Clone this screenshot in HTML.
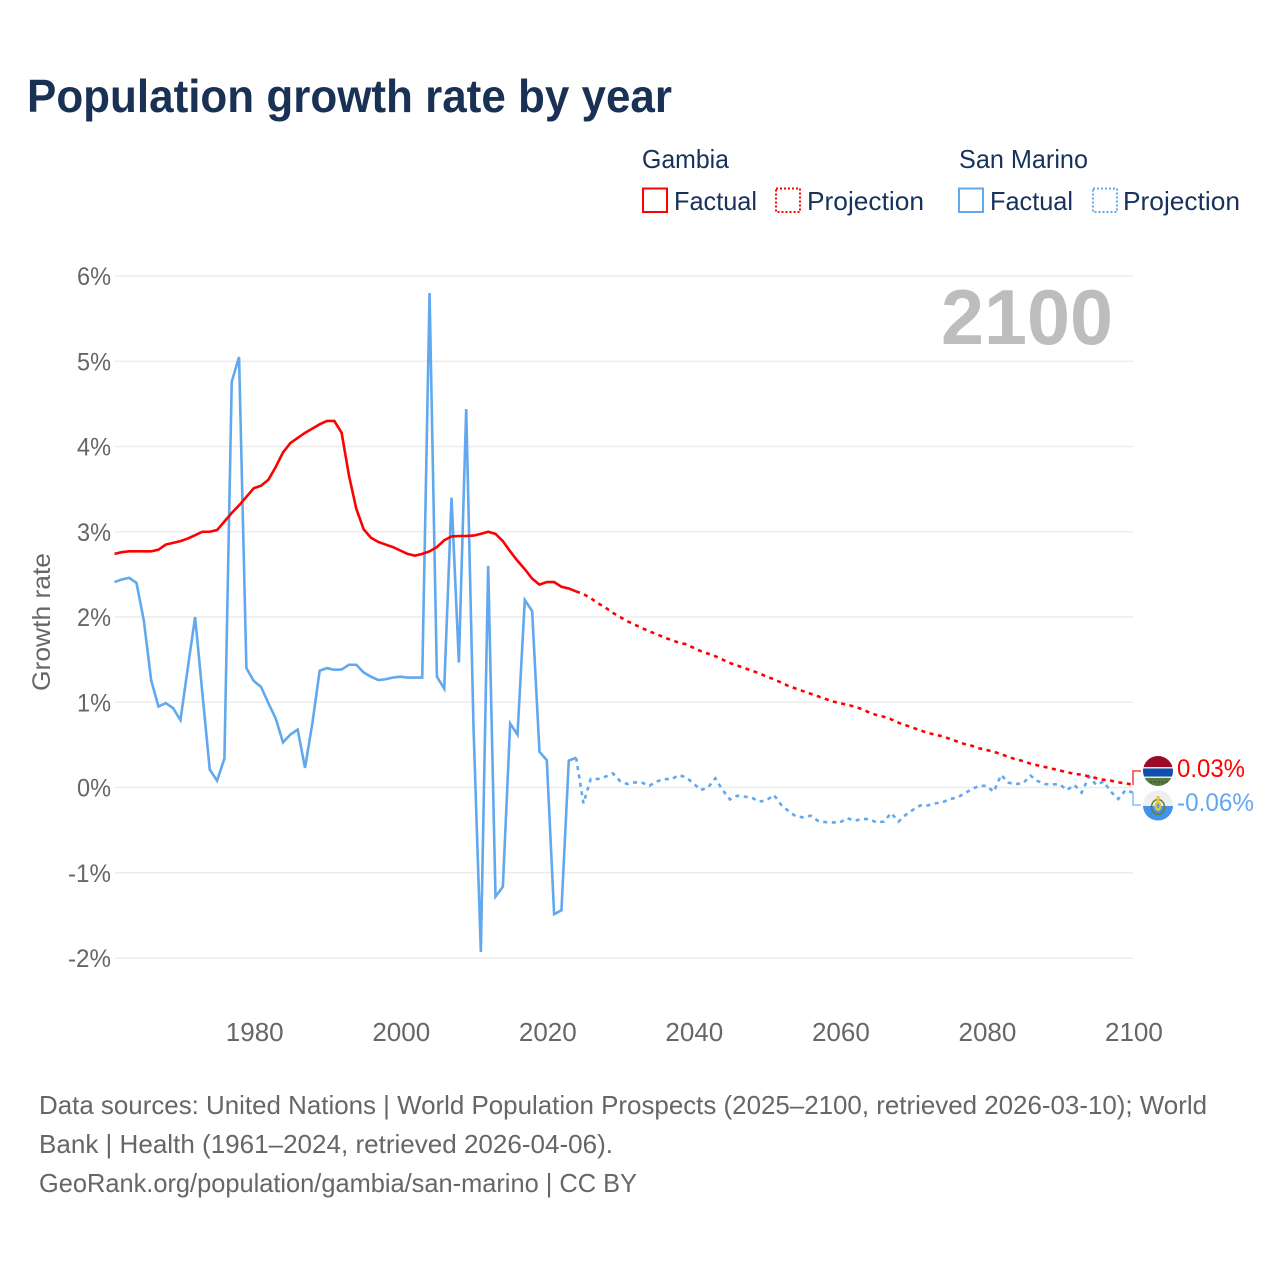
<!DOCTYPE html>
<html lang="en">
<head>
<meta charset="utf-8">
<title>Population growth rate by year</title>
<style>
html,body{margin:0;padding:0;background:#fff;width:1280px;height:1280px;overflow:hidden}
svg{display:block}
text{font-family:"Liberation Sans",sans-serif}
</style>
</head>
<body>
<svg id="chart" xmlns="http://www.w3.org/2000/svg" width="1280" height="1280" viewBox="0 0 1280 1280">
  <rect width="1280" height="1280" fill="#fff"/>
  <text x="27" y="112" font-size="46" font-weight="700" fill="#1a3156" textLength="645" lengthAdjust="spacingAndGlyphs">Population growth rate by year</text>

  <g font-size="26" fill="#17325a">
    <text x="642" y="168" textLength="87" lengthAdjust="spacingAndGlyphs">Gambia</text>
    <text x="959" y="168" textLength="129" lengthAdjust="spacingAndGlyphs">San Marino</text>
    <rect x="643" y="188.500" width="24" height="23.500" fill="none" stroke="#ff0000" stroke-width="2"/>
    <text x="674" y="210" textLength="83" lengthAdjust="spacingAndGlyphs">Factual</text>
    <rect x="776" y="188.500" width="24" height="23.500" fill="none" stroke="#ff0000" stroke-width="2" stroke-dasharray="2 2"/>
    <text x="807" y="210" textLength="117" lengthAdjust="spacingAndGlyphs">Projection</text>
    <rect x="959" y="188.500" width="24" height="23.500" fill="none" stroke="#62a8ef" stroke-width="2"/>
    <text x="990" y="210" textLength="83" lengthAdjust="spacingAndGlyphs">Factual</text>
    <rect x="1093" y="188.500" width="24" height="23.500" fill="none" stroke="#62a8ef" stroke-width="2" stroke-dasharray="2 2"/>
    <text x="1123" y="210" textLength="117" lengthAdjust="spacingAndGlyphs">Projection</text>
  </g>

  <g id="grid"></g>
  <g id="yticks"></g>
  <g id="xticks"></g>

  <text transform="translate(50,622) rotate(-90)" text-anchor="middle" font-size="25" fill="#666" textLength="138" lengthAdjust="spacingAndGlyphs">Growth rate</text>
  <text x="941" y="344" font-size="78" font-weight="700" fill="#bdbdbd" textLength="172" lengthAdjust="spacingAndGlyphs">2100</text>

  <g id="series"></g>
  <g id="connectors"></g>

  <g>
    <clipPath id="clipG"><circle cx="1158" cy="771" r="15"/></clipPath>
    <g clip-path="url(#clipG)">
      <rect x="1143" y="756" width="30" height="11" fill="#9c0a27"/>
      <rect x="1143" y="767" width="30" height="1.500" fill="#e8e8e8"/>
      <rect x="1143" y="768.500" width="30" height="8" fill="#0c4fae"/>
      <rect x="1143" y="776.500" width="30" height="1.500" fill="#e8e8e8"/>
      <rect x="1143" y="778" width="30" height="9" fill="#577a3c"/>
      <circle cx="1151" cy="782" r="0.700" fill="#2b3a20"/><circle cx="1155" cy="782" r="0.700" fill="#2b3a20"/><circle cx="1159" cy="782" r="0.700" fill="#2b3a20"/><circle cx="1163" cy="782" r="0.700" fill="#2b3a20"/><circle cx="1167" cy="782" r="0.700" fill="#2b3a20"/>
    </g>
  </g>
  <g>
    <clipPath id="clipS"><circle cx="1158" cy="805.500" r="15"/></clipPath>
    <g clip-path="url(#clipS)">
      <rect x="1143" y="790" width="30" height="16" fill="#eeeeee"/>
      <rect x="1143" y="806" width="30" height="15" fill="#3f93e8"/>
      <ellipse cx="1158" cy="807" rx="6.500" ry="7.500" fill="none" stroke="#5f7f3a" stroke-width="1.500"/>
      <ellipse cx="1158" cy="806" rx="3.500" ry="5" fill="#e9c53a"/>
      <rect x="1156.500" y="796" width="3" height="5" fill="#e9c53a"/>
      <ellipse cx="1158" cy="806" rx="1.500" ry="2.500" fill="#5fa0d8"/>
    </g>
  </g>

  <text x="1177" y="777" font-size="25" fill="#ff0000" textLength="68" lengthAdjust="spacingAndGlyphs">0.03%</text>
  <text x="1177" y="811" font-size="25" fill="#62a8ef" textLength="77" lengthAdjust="spacingAndGlyphs">-0.06%</text>

  <g font-size="26" fill="#666">
    <text x="39" y="1114" textLength="1168" lengthAdjust="spacingAndGlyphs">Data sources: United Nations | World Population Prospects (2025–2100, retrieved 2026-03-10); World</text>
    <text x="39" y="1153" textLength="574" lengthAdjust="spacingAndGlyphs">Bank | Health (1961–2024, retrieved 2026-04-06).</text>
    <text x="39" y="1192" textLength="598" lengthAdjust="spacingAndGlyphs">GeoRank.org/population/gambia/san-marino | CC BY</text>
  </g>
</svg>
<script>
const xTickYears = [1980, 2000, 2020, 2040, 2060, 2080, 2100];
const yTickValues = [6, 5, 4, 3, 2, 1, 0, -1, -2];
const factualStartYear = 1961;
const projectionStartYear = 2024;
const gambiaFactual = [
  2.74,2.76,2.77,2.77,2.77,2.77,2.79,2.85,2.87,2.89,
  2.92,2.96,3.00,3.00,3.02,3.12,3.22,3.31,3.41,3.51,
  3.54,3.61,3.76,3.93,4.04,4.10,4.16,4.21,4.26,4.30,
  4.30,4.16,3.66,3.27,3.03,2.93,2.88,2.85,2.82,2.78,
  2.74,2.72,2.74,2.77,2.82,2.90,2.945,2.95,2.95,2.955,
  2.975,3.00,2.975,2.89,2.77,2.66,2.56,2.45,2.38,2.41,
  2.41,2.355,2.335,2.30
];
const gambiaProjection = [
  2.30,2.27,2.22,2.16,2.11,2.05,2.00,1.95,1.91,1.87,1.83,
  1.80,1.76,1.73,1.70,1.68,1.64,1.60,1.57,1.54,1.50,
  1.46,1.43,1.40,1.37,1.34,1.30,1.27,1.23,1.19,1.16,
  1.13,1.10,1.07,1.04,1.01,0.99,0.97,0.95,0.92,0.88,
  0.85,0.83,0.80,0.76,0.73,0.70,0.67,0.64,0.62,0.60,
  0.57,0.54,0.51,0.49,0.46,0.44,0.42,0.39,0.36,0.33,
  0.31,0.28,0.26,0.24,0.22,0.20,0.18,0.16,0.15,0.13,
  0.11,0.09,0.08,0.06,0.05,0.03
];
const sanMarinoFactual = [
  2.41,2.44,2.46,2.40,1.96,1.26,0.95,0.99,0.93,0.79,
  1.40,2.00,1.10,0.21,0.08,0.34,4.76,5.05,1.40,1.25,
  1.18,0.99,0.81,0.53,0.62,0.68,0.23,0.75,1.37,1.40,
  1.38,1.385,1.44,1.44,1.35,1.30,1.26,1.27,1.29,1.30,
  1.29,1.29,1.29,5.80,1.30,1.16,3.40,1.465,4.44,0.70,
  -1.93,2.60,-1.28,-1.165,0.75,0.62,2.20,2.07,0.42,0.32,
  -1.485,-1.44,0.315,0.35
];
const sanMarinoProjection = [
  0.35,-0.185,0.10,0.10,0.127,0.166,0.076,0.04,0.06,0.057,0.02,
  0.07,0.10,0.096,0.146,0.12,0.05,-0.03,0.00,0.107,-0.03,
  -0.14,-0.096,-0.107,-0.12,-0.166,-0.15,-0.088,-0.205,-0.276,-0.34,
  -0.35,-0.33,-0.39,-0.405,-0.41,-0.41,-0.36,-0.39,-0.37,-0.37,
  -0.41,-0.40,-0.30,-0.40,-0.32,-0.26,-0.21,-0.21,-0.186,-0.174,
  -0.135,-0.12,-0.07,-0.02,0.02,0.02,-0.05,0.147,0.057,0.04,
  0.05,0.14,0.076,0.04,0.037,0.037,-0.03,0.03,-0.06,0.127,
  0.03,0.07,-0.05,-0.135,-0.03,-0.06
];

const NS = 'http://www.w3.org/2000/svg';
function xScale(year) { return 114.5 + (year - 1961) * 7.327; }
function yScale(value) { return 787.5 - value * 85.25; }
function make(tag, attrs, parent) {
  const el = document.createElementNS(NS, tag);
  for (const k in attrs) el.setAttribute(k, attrs[k]);
  parent.appendChild(el);
  return el;
}
function linePath(values, startYear) {
  return values.map((v, i) => (i ? 'L' : 'M') + xScale(startYear + i).toFixed(2) + ' ' + yScale(v).toFixed(2)).join(' ');
}

const grid = document.getElementById('grid');
const yticks = document.getElementById('yticks');
const xticks = document.getElementById('xticks');
const series = document.getElementById('series');
const connectors = document.getElementById('connectors');

yTickValues.forEach(function (v) {
  const line = make('line', {x1: 115, x2: 1133, y1: yScale(v), y2: yScale(v), stroke: '#ececec', 'stroke-width': 1.500}, grid);
  
  
  const label = make('text', {x: 111, y: yScale(v) + 9, 'text-anchor': 'end', 'font-size': 25, fill: '#666', textLength: v < 0 ? 43 : 34, lengthAdjust: 'spacingAndGlyphs'}, yticks);
  label.textContent = v + '%';
  
  
});

xTickYears.forEach(function (year) {
  const label = make('text', {x: xScale(year) + 1, y: 1041, 'text-anchor': 'middle', 'font-size': 26, fill: '#666'}, xticks);
  label.textContent = year;
  
  
});

const sanFactualLine = make('path', {d: linePath(sanMarinoFactual, factualStartYear), fill: 'none', stroke: '#62a8ef', 'stroke-width': 2.600, 'stroke-linejoin': 'miter'}, series);


const sanProjLine = make('path', {d: linePath(sanMarinoProjection, projectionStartYear), fill: 'none', stroke: '#62a8ef', 'stroke-width': 2.600, 'stroke-dasharray': '4 4.500'}, series);


const gamFactualLine = make('path', {d: linePath(gambiaFactual, factualStartYear), fill: 'none', stroke: '#ff0000', 'stroke-width': 2.600}, series);


const gamProjLine = make('path', {d: linePath(gambiaProjection, projectionStartYear), fill: 'none', stroke: '#ff0000', 'stroke-width': 2.600, 'stroke-dasharray': '4 4.500'}, series);



const gamEnd = yScale(gambiaProjection[gambiaProjection.length - 1]);
const sanEnd = yScale(sanMarinoProjection[sanMarinoProjection.length - 1]);
const gamConn = make('path', {d: 'M1133 ' + gamEnd + ' V771 H1141', fill: 'none', stroke: '#ff5a5a', 'stroke-width': 1.800}, connectors);


const sanConn = make('path', {d: 'M1133 ' + sanEnd + ' V805 H1141', fill: 'none', stroke: '#9cc8f4', 'stroke-width': 1.800}, connectors);


</script>
</body>
</html>
